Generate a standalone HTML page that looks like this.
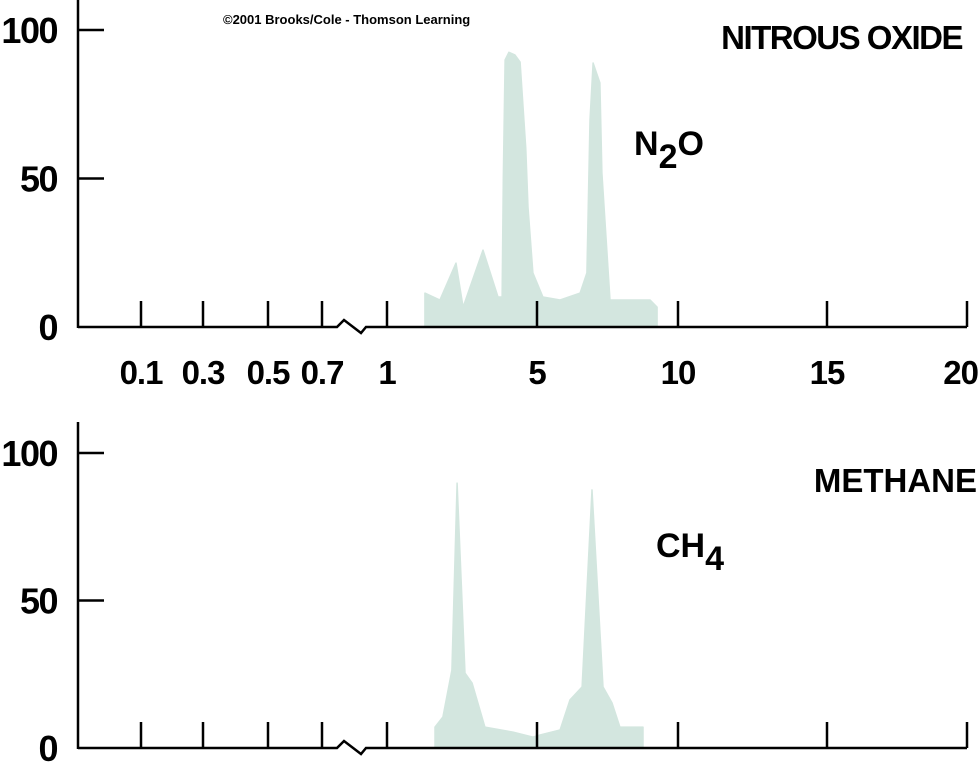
<!DOCTYPE html>
<html><head><meta charset="utf-8">
<style>
html,body{margin:0;padding:0;background:#fff;}
svg{display:block;font-family:"Liberation Sans",Arial,sans-serif;font-weight:bold;}
</style></head>
<body>
<svg id="chart" width="979" height="768" viewBox="0 0 979 768" xmlns="http://www.w3.org/2000/svg">
<text x="223" y="24" font-size="13">©2001 Brooks/Cole - Thomson Learning</text>
<text x="962" y="49" font-size="33" text-anchor="end" letter-spacing="-1.5">NITROUS OXIDE</text>
<text x="634" y="155" font-size="34">N<tspan dy="13">2</tspan><tspan dy="-13">O</tspan></text>
<text x="977" y="492" font-size="33" text-anchor="end">METHANE</text>
<text x="656" y="557" font-size="34">CH<tspan dy="13">4</tspan></text>
</svg>
<script>
// x-axis tick values (wavelength, micrometres) and their labels
const xTickValues = [0.1, 0.3, 0.5, 0.7, 1, 5, 10, 15, 20];
const xTickLabels = ["0.1", "0.3", "0.5", "0.7", "1", "5", "10", "15", "20"];
const yTickValues = [0, 50, 100];
const yTickLabels = ["0", "50", "100"];
// N2O absorption profile (wavelength, % absorption)
const n2oWave = [2.01,2.01,2.41,2.84,3.03,3.56,3.96,4.07,4.10,4.15,4.25,4.41,4.55,4.70,4.76,4.89,5.21,5.82,6.53,6.77,6.88,6.99,7.23,7.30,7.59,8.40,9.01,9.26,9.26];
const n2oAbs = [0,11.4,9.1,21.5,6.7,25.9,10.1,10.1,50,89.9,92.5,91.6,89.2,60,40.4,18.2,10.1,9.1,11.4,18.2,69.7,88.9,82.2,51.9,9.1,9.1,9.1,6.7,0];
// CH4 absorption profile
const ch4Wave = [2.28,2.28,2.49,2.73,2.87,3.08,3.27,3.61,4.36,4.89,5.11,5.82,6.17,6.60,6.95,7.34,7.66,7.94,8.76,8.76];
const ch4Abs = [0,7.1,10.5,26.4,89.8,25.4,22.0,7.1,5.4,3.7,4.4,6.1,16.3,20.7,87.5,20.7,15.3,7.1,7.1,0];

const svg = document.getElementById('chart');
const NS = 'http://www.w3.org/2000/svg';
const tickPx = [141, 203, 268, 322, 387, 537, 678, 827, 967];
function xScale(v){
  for (let i=0;i<xTickValues.length-1;i++){
    const a=xTickValues[i], b=xTickValues[i+1];
    if (v<=b || i===xTickValues.length-2){
      return tickPx[i] + (v-a)/(b-a)*(tickPx[i+1]-tickPx[i]);
    }
  }
}
function mk(tag, attrs){
  const e=document.createElementNS(NS,tag);
  for (const k in attrs) e.setAttribute(k, attrs[k]);
  svg.appendChild(e); return e;
}
const panels = [
  {name:'n2o', y0:327, y100:30, top:0, wave:n2oWave, abs:n2oAbs, labels:true},
  {name:'ch4', y0:748, y100:453, top:422, wave:ch4Wave, abs:ch4Abs, labels:false}
];
panels.forEach(p=>{
  const yScale = v => p.y0 - v/100*(p.y0-p.y100);
  const pts = p.wave.map((w,i)=>xScale(w).toFixed(1)+','+yScale(p.abs[i]).toFixed(1)).join(' ');
  const area = mk('polygon',{points:pts, fill:'#d3e6df','stroke':'#d3e6df','stroke-width':1.5,'stroke-linejoin':'round'});
  
  
  const ya = mk('line',{x1:78,y1:p.top,x2:78,y2:p.y0+1,stroke:'#000','stroke-width':2.5});
  
  
  yTickValues.forEach((v,i)=>{
    if (v>0){
      const t = mk('line',{x1:78,y1:yScale(v),x2:104,y2:yScale(v),stroke:'#000','stroke-width':2.5});
      
      
    }
    const tx = mk('text',{x:57,y:yScale(v)+13,'font-size':36,'text-anchor':'end','letter-spacing':'-1.5'});
    tx.textContent = yTickLabels[i];
    
    
  });
  const y=p.y0;
  const xa = mk('polyline',{points:`78,${y} 337,${y} 344,${y-7} 361,${y+6} 366,${y} 967,${y}`,fill:'none',stroke:'#000','stroke-width':2.5});
  
  
  xTickValues.forEach((v,i)=>{
    const x=xScale(v);
    const t = mk('line',{x1:x,y1:y,x2:x,y2:y-26,stroke:'#000','stroke-width':2.5});
    
    
    if (p.labels){
      const last = i===xTickValues.length-1;
      const tx = mk('text',{x:last?978:x,y:384,'font-size':33,'text-anchor':last?'end':'middle','letter-spacing':'-1'});
      tx.textContent = xTickLabels[i];
      
      
    }
  });
});
</script>
</body></html>
